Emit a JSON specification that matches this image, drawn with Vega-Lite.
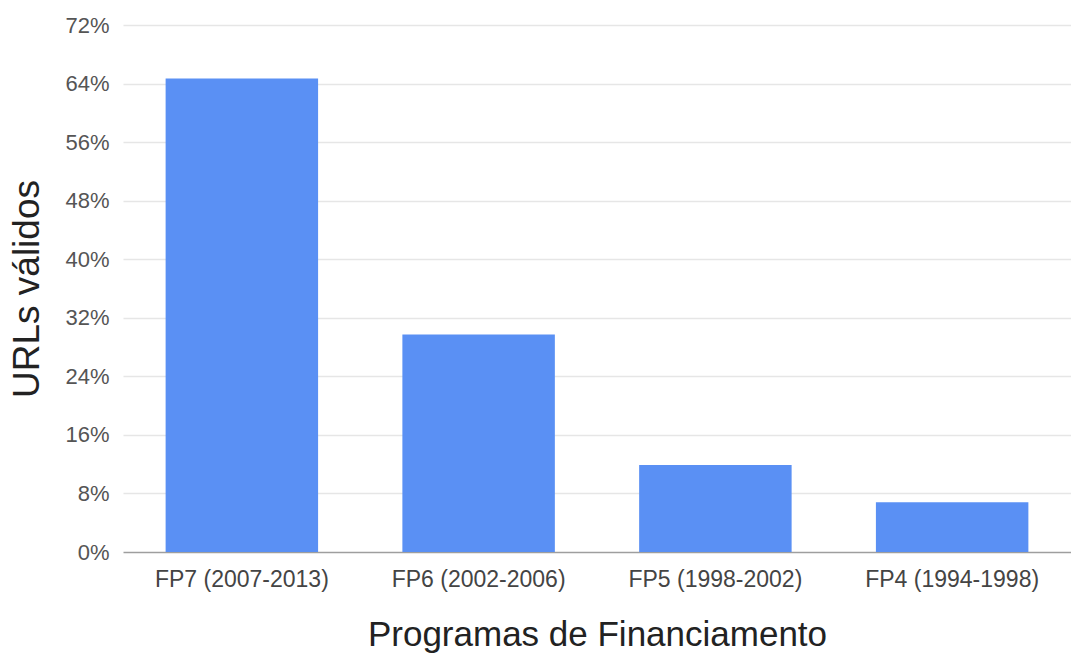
{
  "$schema": "https://vega.github.io/schema/vega-lite/v6.json",
  "width": 948,
  "height": 527,
  "autosize": {"type": "none"},
  "padding": {"left": 123, "top": 25, "right": 0, "bottom": 111},
  "background": "white",
  "config": {
    "view": {"stroke": null},
    "font": "Liberation Sans"
  },
  "data": {
    "values": [
      {"programa": "FP7 (2007-2013)", "valor": 0.647},
      {"programa": "FP6 (2002-2006)", "valor": 0.297},
      {"programa": "FP5 (1998-2002)", "valor": 0.119},
      {"programa": "FP4 (1994-1998)", "valor": 0.068}
    ]
  },
  "mark": {"type": "bar", "color": "#5a90f4"},
  "encoding": {
    "x": {
      "field": "programa",
      "type": "nominal",
      "sort": null,
      "scale": {"paddingInner": 0.356, "paddingOuter": 0.18},
      "axis": {
        "title": "Programas de Financiamento",
        "titleFontSize": 35,
        "titleFontWeight": "normal",
        "titleColor": "#222222",
        "titlePadding": 26,
        "labelAngle": 0,
        "labelFontSize": 23,
        "labelColor": "#444444",
        "labelPadding": 16,
        "ticks": false,
        "domain": false
      }
    },
    "y": {
      "field": "valor",
      "type": "quantitative",
      "scale": {"domain": [0, 0.72]},
      "axis": {
        "title": "URLs válidos",
        "titleFontSize": 37,
        "titleFontWeight": "normal",
        "titleColor": "#222222",
        "titlePadding": 18,
        "format": ".0%",
        "values": [0, 0.08, 0.16, 0.24, 0.32, 0.40, 0.48, 0.56, 0.64, 0.72],
        "labelFontSize": 22,
        "labelColor": "#555555",
        "labelPadding": 14,
        "ticks": false,
        "domain": false,
        "gridColor": {"condition": {"test": "datum.value === 0", "value": "#9e9e9e"}, "value": "#e6e6e6"},
        "gridWidth": 1.5
      }
    }
  }
}
